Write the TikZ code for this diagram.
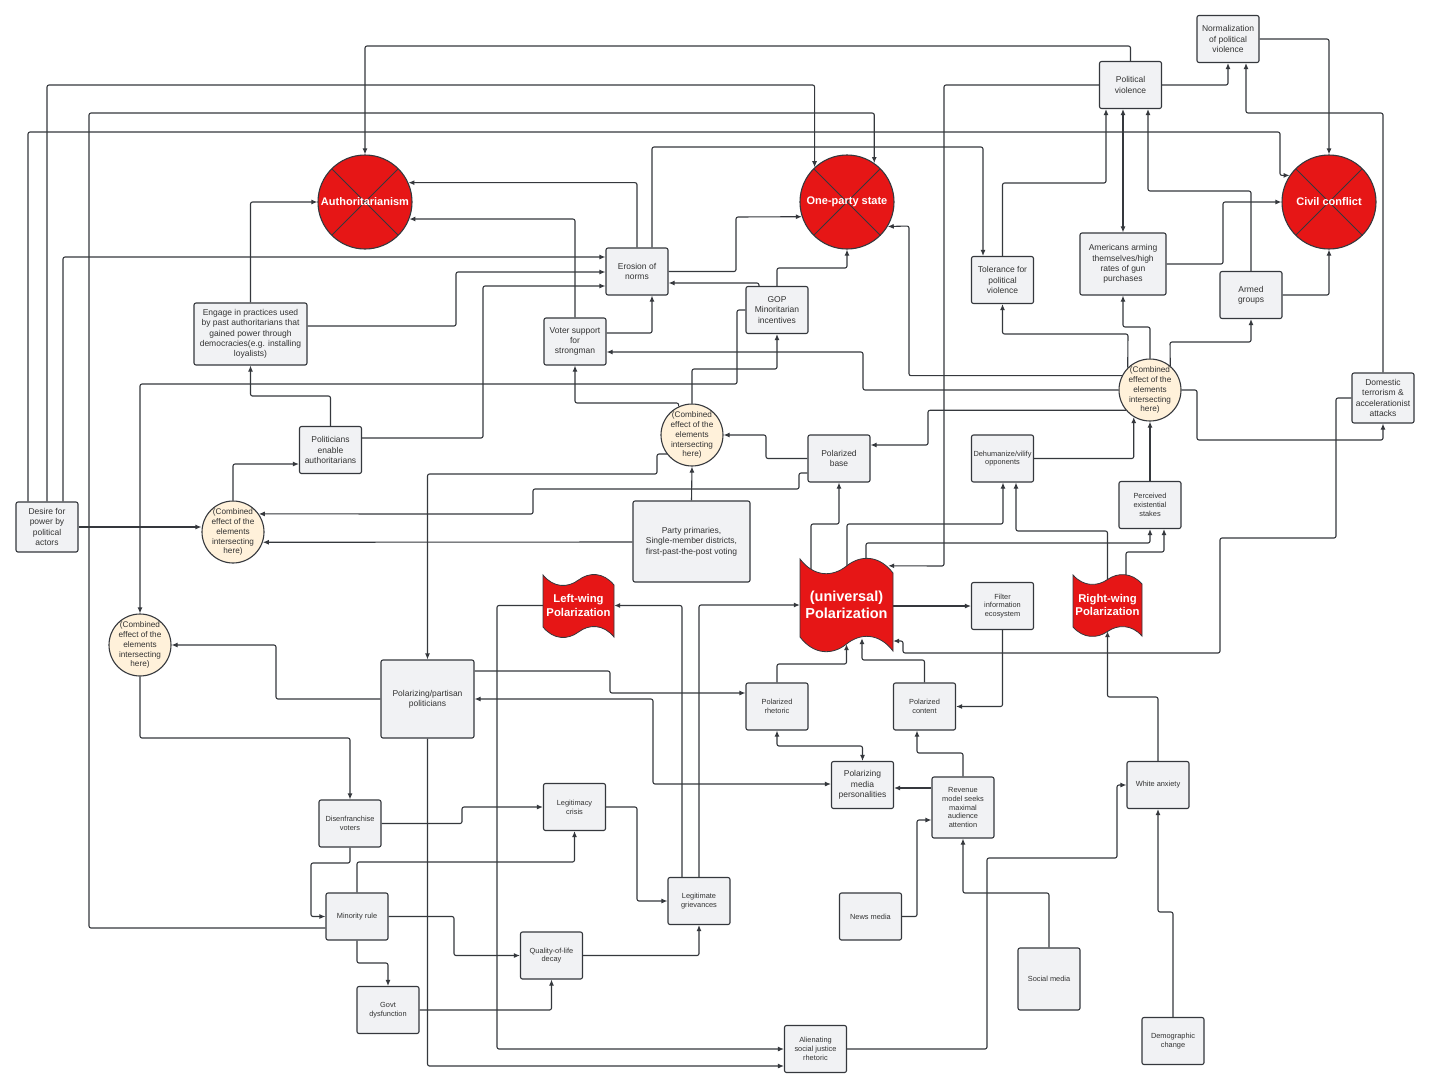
\documentclass[tikz,border=0pt]{standalone}
\usepackage{fontspec}
\setmainfont{Liberation Sans}
\usepackage{tikz}
\usetikzlibrary{arrows.meta,calc}
\definecolor{polred}{HTML}{E61616}
\definecolor{boxfill}{HTML}{F1F2F4}
\definecolor{cream}{HTML}{FFF1DA}
\definecolor{linec}{HTML}{35383D}
\pgfdeclarelayer{bg}
\pgfsetlayers{bg,main}
% wavy red banner: left, top, width, body height, wave depth
\newcommand{\flagshape}[5]{%
  \begin{scope}[shift={(#1,#2)}, xscale=#3]
  \filldraw[fill=polred, draw=linec, line width=0.8pt] (0,0)
    .. controls (0.15,1.3*#5) and (0.35,1.3*#5) .. (0.5,0.5*#5)
    .. controls (0.65,-0.3*#5) and (0.85,-0.3*#5) .. (1,#5)
    -- (1,#5+#4)
    .. controls (0.85,#4-0.3*#5) and (0.65,#4-0.3*#5) .. (0.5,#4+0.5*#5)
    .. controls (0.35,#4+1.3*#5) and (0.15,#4+1.3*#5) .. (0,#4) -- cycle;
  \end{scope}}

\begin{document}
\begin{tikzpicture}[x=1pt,y=-1pt,
  box/.style={draw=linec, fill=boxfill, rounded corners=2pt, line width=1.1pt, align=center,
    inner sep=1pt, minimum width=62, minimum height=47, text=black!80,
    font=\fontsize{8.5}{10.3}\selectfont},
  sbox/.style={box, font=\fontsize{7.4}{8.8}\selectfont},
  comb/.style={circle, draw=linec, fill=cream, line width=1.1pt, minimum size=62, inner sep=-6pt,
    align=center, text=black!80, font=\fontsize{8.2}{9.9}\selectfont},
  outcome/.style={circle, draw=linec, fill=polred, line width=1.1pt, minimum size=94, inner sep=0pt,
    text=white, font=\bfseries\fontsize{11}{13}\selectfont,
    path picture={\draw[linec, line width=1pt]
      (path picture bounding box.north west) -- (path picture bounding box.south east)
      (path picture bounding box.north east) -- (path picture bounding box.south west);}},
  flagtxt/.style={inner sep=0pt, align=center, text=white, font=\bfseries\fontsize{11.3}{13.3}\selectfont},
  link/.style={draw=linec, line width=1.1pt, rounded corners=2pt, -{Latex[length=6pt,width=5pt]}},
  both/.style={link, {Latex[length=6pt,width=5pt]}-{Latex[length=6pt,width=5pt]}}]

\begin{pgfonlayer}{bg}
\fill[white] (0,0) rectangle (1430,1088);
\end{pgfonlayer}
\useasboundingbox (0,0) rectangle (1430,1088);

% outcomes
\node[outcome] (auth) at (365,202) {Authoritarianism};
\node[outcome] (onep) at (847,202) {One-party state};
\node[outcome] (civil) at (1329,202) {Civil conflict};

% violence
\node[box] (norm) at (1228,39) {Normalization\\of political\\violence};
\node[box] (pv) at (1130.5,85) {Political\\violence};
\node[box] (tol) at (1002.5,280) {Tolerance for\\political\\violence};
\node[box, minimum width=86, minimum height=62] (arm) at (1123,264) {Americans arming\\themselves/high\\rates of gun\\purchases};
\node[box] (armed) at (1251,295) {Armed\\groups};
\node[box, minimum height=50] (dom) at (1383,398) {Domestic\\terrorism \&\\accelerationist\\attacks};

% norms
\node[box] (eros) at (637,271.5) {Erosion of\\norms};
\node[box] (gop) at (777,310) {GOP\\Minoritarian\\incentives};
\node[box] (voter) at (575,341.5) {Voter support\\for\\strongman};
\node[box, minimum width=113, minimum height=62] (engage) at (250.5,334) {Engage in practices used\\by past authoritarians that\\gained power through\\democracies(e.g. installing\\loyalists)};
\node[box] (polen) at (330.5,450) {Politicians\\enable\\authoritarians};
\node[box, minimum height=50] (desire) at (47,527) {Desire for\\power by\\political\\actors};

% combined effects
\node[comb] (c1) at (233,532) {(Combined\\effect of the\\elements\\intersecting\\here)};
\node[comb] (c2) at (692,435) {(Combined\\effect of the\\elements\\intersecting\\here)};
\node[comb] (c3) at (140,645) {(Combined\\effect of the\\elements\\intersecting\\here)};
\node[comb] (c4) at (1150,390) {(Combined\\effect of the\\elements\\intersecting\\here)};

% polarization
\node[box] (pbase) at (839,458.5) {Polarized\\base};
\node[box, minimum width=117, minimum height=81] (party) at (691.5,541.5) {Party primaries,\\Single-member districts,\\first-past-the-post voting};
\node[sbox] (dehum) at (1002.5,458.5) {Dehumanize/vilify\\opponents};
\node[sbox] (stakes) at (1150,505) {Perceived\\existential\\stakes};
\node[sbox] (filter) at (1002.5,606) {Filter\\information\\ecosystem};
\node[box, minimum width=93, minimum height=78] (ppol) at (427.5,699) {Polarizing/partisan\\politicians};
\node[sbox] (prhet) at (777,706.5) {Polarized\\rhetoric};
\node[sbox] (pcont) at (924.5,706.5) {Polarized\\content};
\node[box] (media) at (862.5,785) {Polarizing\\media\\personalities};
\node[sbox, minimum height=61] (rev) at (963,807.5) {Revenue\\model seeks\\maximal\\audience\\attention};
\node[sbox] (news) at (870.5,916.5) {News media};
\node[sbox, minimum height=62] (social) at (1049,979) {Social media};
\node[sbox] (white) at (1158,785) {White anxiety};
\node[sbox] (demo) at (1173,1041) {Demographic\\change};

% lower left
\node[sbox] (disen) at (350,823.5) {Disenfranchise\\voters};
\node[sbox] (minr) at (357,916.5) {Minority rule};
\node[sbox] (govt) at (388,1010) {Govt\\dysfunction};
\node[sbox] (legc) at (574.5,807) {Legitimacy\\crisis};
\node[sbox] (legg) at (699,901) {Legitimate\\grievances};
\node[sbox] (qol) at (551.5,955.5) {Quality-of-life\\decay};
\node[sbox] (alien) at (815.5,1049) {Alienating\\social justice\\rhetoric};

% banners
\flagshape{800}{559}{93}{78}{14}
\node[flagtxt, minimum width=93, minimum height=78, font=\bfseries\fontsize{14.5}{17}\selectfont] (upol) at (846.5,605) {(universal)\\Polarization};
\flagshape{543}{575}{71}{52}{10}
\node[flagtxt, minimum width=71, minimum height=52] (lpol) at (578.5,605.5) {Left-wing\\Polarization};
\flagshape{1073}{575}{69}{52}{9}
\node[flagtxt, minimum width=69, minimum height=52] (rpol) at (1107.5,605) {Right-wing\\Polarization};

\begin{pgfonlayer}{bg}
% into the outcomes
\draw[link] (pv.north) -- (1130.5,46) -| (auth.north);
\draw[link] (desire.north -| 28,0) |- (1280,132) |- (civil.146);
\draw[link] (desire.north) -- (47,85) -| (onep.133);
\draw[link] (desire.north -| 63,0) |- (eros.west |- 0,257);
\draw[link] (minr.west |- 0,928) -| (89,113) -| (onep.55);
\draw[link] (engage.north) |- (auth.west);
\draw[link] (engage.east |- 0,326) -| (456,272) -- (eros.west |- 0,272);
\draw[link] (eros.north) |- (auth.24);
\draw[link] (voter.north) |- (auth.-21);
\draw[link] (eros.north -| 652,0) |- (983,147) -- (tol.north -| 983,0);
\draw[link] (eros.east) -| (736,217) -- (onep.198);
\draw[link] (gop.north -| 759,0) |- (eros.east |- 0,283);
\draw[link] (gop.north) -- (777,268) -| (onep.south);
\draw[link] (voter.east |- 0,333) -| (eros.south -| 652,0);
% right hand circle
\draw[link] (c4.west) -| (863,352) -- (voter.east |- 0,352);
\draw[link] (c4.153) -| (909,226) -- (onep.-31);
\draw[link] (c4.-140) -| (928,445) -- (pbase.east |- 0,445);
\draw[link] (c4.135) -- (1128,334) -| (tol.south);
\draw[link] (c4.north) -- (1150,327) -| (arm.south);
\draw[link] (c4.50) -- (1170,342) -| (armed.south);
\draw[link] (c4.east) -| (1197,440) -| (dom.south);
\draw[link] (dom.north) -- (1383,113) -| (norm.south -| 1246,0);
\draw[link] (dom.west) -| (1336,538) -| (1220,653) -| (903,641) -- (upol.east |- 0,641);
\draw[link] (dehum.east) -| (c4.-121);
\draw[link] (stakes.north) -- (c4.south);
% violence
\draw[link] (pv.east) -| (norm.south);
\draw[link] (norm.east) -| (civil.north);
\draw[link] (tol.north) |- (1106,183) -- (pv.south -| 1106,0);
\draw[both] (pv.south -| 1123,0) -- (arm.north);
\draw[link] (armed.north) |- (1148,191) -- (pv.south -| 1148,0);
\draw[link] (arm.east) -| (1223,202) -- (civil.west);
\draw[link] (armed.east) -| (civil.south);
\draw[link] (pv.west) -| (944,566) -- ([xshift=-5pt]upol.north east);
% polarization
\draw[link] (legg.north) |- (upol.west);
\draw[link] (legg.north -| 682,0) |- (lpol.east);
\draw[link] (lpol.west) -| (497,1049) -- (alien.west);
\draw[link] (ppol.south) |- (alien.west |- 0,1066);
\draw[link] (upol.center -| 811,0) |- (839,524) -- (pbase.south);
\draw[link] (upol.center -| 847,0) |- (1003,524) -- (dehum.south -| 1003,0);
\draw[link] (upol.center -| 866,0) |- (1150,543) -- (stakes.south);
\draw[link] (upol.east |- filter.west) -- (filter.west);
\draw[link] (filter.south) |- (pcont.east);
\draw[link] (prhet.north) |- (upol.south |- 0,664) -- (upol.south);
\draw[link] (pcont.north) |- (862,660) -- ($(upol.south -| 862,0)+(0,-6)$);
\draw[link] (rev.north) |- (917,753) -- (pcont.south -| 917,0);
\draw[link] (news.east) -| (917,820) -- (rev.west |- 0,820);
\draw[link] (social.north) |- (963,893) -- (rev.south);
\draw[link] (rev.west |- 0,788) -- (media.east |- 0,788);
\draw[both] (prhet.south) |- (media.north |- 0,746) -- (media.north);
\draw[both] (ppol.east |- 0,699) -| (653,784) -- (media.west |- 0,784);
\draw[link] (ppol.east |- 0,671) -| (610,693) -- (prhet.west |- 0,693);
\draw[link] (ppol.west) -| (276,645) -- (c3.east);
% middle circles
\draw[link] (c2.217) -| (657,474) -| (ppol.north);
\draw[link] (c2.115) |- (voter.south |- 0,403) -- (voter.south);
\draw[link] (c2.north) |- (777,369) -- (gop.south);
\draw[link] (pbase.west) -| (766,435) -- (c2.east);
\draw[link] (party.north) -- (c2.south);
\draw[link] (pbase.west |- 0,473) -| (799,489) -| (533,514) -- (c1.35);
\draw[link] (party.west |- 0,542) -- (c1.-19);
\draw[link] (desire.east) -- (c1.west |- desire.east);
\draw[link] (c1.north) |- (polen.west |- 0,464);
\draw[link] (polen.north) |- (250.5,396) -- (engage.south);
\draw[link] (polen.east |- 0,438) -| (483,286) -- (eros.west |- 0,286);
\draw[link] (gop.west) -| (737,384) -| (c3.north);
\draw[link] (c3.south) |- (disen.north |- 0,738) -- (disen.north);
% lower left
\draw[link] (disen.east) -| (462,807) -- (legc.west);
\draw[link] (disen.south) |- (311,863) |- (minr.west);
\draw[link] (minr.north) |- (legc.south |- 0,862) -- (legc.south);
\draw[link] (minr.east) -| (454,955.5) -- (qol.west);
\draw[link] (minr.south) |- (govt.north |- 0,963) -- (govt.north);
\draw[link] (govt.east) -| (qol.south);
\draw[link] (legc.east) -| (637,901) -- (legg.west);
\draw[link] (qol.east) -| (legg.south);
% lower right
\draw[link] (alien.east) -| (987,858) -| (1117,785) -- (white.west);
\draw[link] (demo.north) |- (1158,912) -- (white.south);
\draw[link] (white.north) |- (1107.5,697) -- (rpol.south);
\draw[link] (rpol.center) |- (1016,531) -- (dehum.south -| 1016,0);
\draw[link] (rpol.center -| 1126,0) |- (1164,552) -- (stakes.south -| 1164,0);
\end{pgfonlayer}
\end{tikzpicture}
\end{document}
